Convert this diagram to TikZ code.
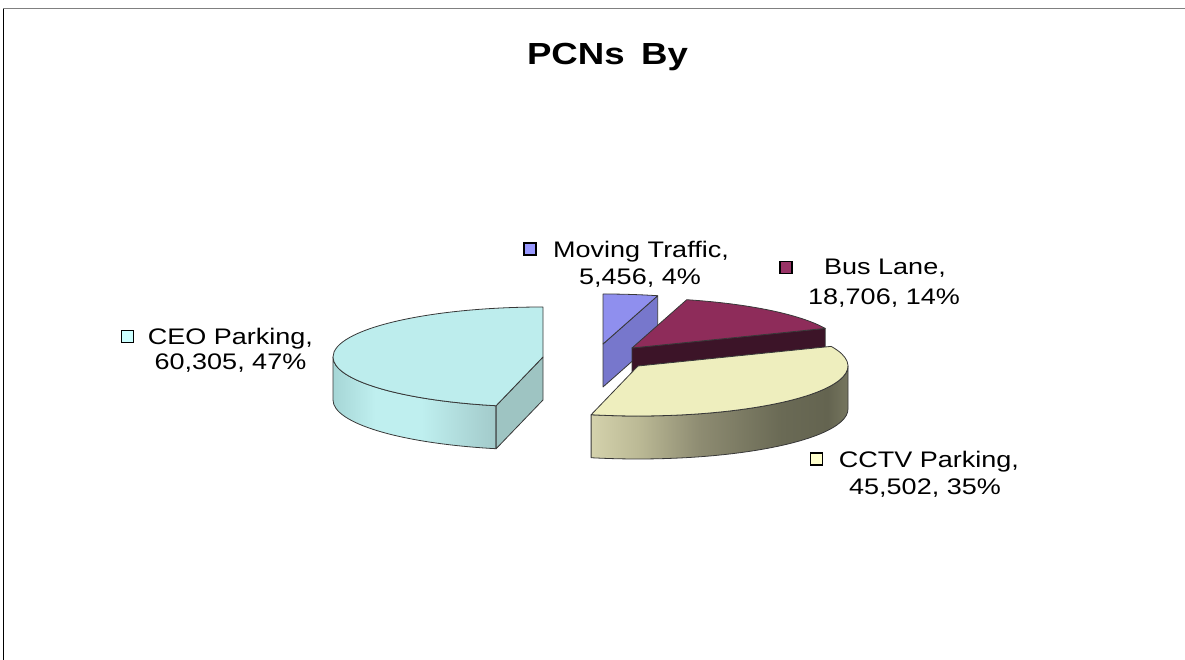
\documentclass[tikz,border=0pt]{standalone}
\usepackage{fontspec}
\setmainfont{Liberation Sans}
\usetikzlibrary{calc}
\definecolor{ceoA}{HTML}{A6D6D6}
\definecolor{ceoB}{HTML}{BFEFEF}
\definecolor{ceoC}{HTML}{A2CACA}
\definecolor{ceoTop}{HTML}{BDEDED}
\definecolor{ceoRad}{HTML}{9EC4C2}
\definecolor{ccA}{HTML}{D4D2AC}
\definecolor{ccB}{HTML}{BCBA96}
\definecolor{ccC}{HTML}{8E8C72}
\definecolor{ccD}{HTML}{6A6A55}
\definecolor{ccE}{HTML}{646450}
\definecolor{ccF}{HTML}{76765F}
\definecolor{ccTop}{HTML}{EEEEBE}
\definecolor{busTop}{HTML}{8E2C5A}
\definecolor{busRad}{HTML}{3C1428}
\definecolor{mtTop}{HTML}{8F8FEE}
\definecolor{mtRad}{HTML}{7777CC}
\definecolor{edge}{HTML}{383838}
\definecolor{lgCEO}{HTML}{CCFFFF}
\definecolor{lgMT}{HTML}{9999FF}
\definecolor{lgBus}{HTML}{993366}
\definecolor{lgCC}{HTML}{FFFFCC}
\pgfdeclarehorizontalshading{ceoside}{100bp}{color(0bp)=(ceoA); color(25bp)=(ceoA); color(38bp)=(ceoB); color(52bp)=(ceoB); color(75bp)=(ceoC); color(100bp)=(ceoC)}
\pgfdeclarehorizontalshading{cctvside}{100bp}{color(0bp)=(ccA); color(25bp)=(ccA); color(34bp)=(ccB); color(46bp)=(ccC); color(62bp)=(ccD); color(71bp)=(ccE); color(75bp)=(ccF); color(100bp)=(ccF)}
\begin{document}
\begin{tikzpicture}[x=1pt,y=1pt,
  face/.style={draw=edge,line width=0.8pt,line join=round},
  legendbox/.style={draw=black,line width=1.6pt,minimum size=12pt,inner sep=0pt},
  lbl/.style={anchor=base,inner sep=0pt,font=\fontsize{22.5}{27}\selectfont},
  ttl/.style={anchor=base,inner sep=0pt,font=\fontsize{30.5}{36}\selectfont\bfseries}]
\useasboundingbox (0,0) rectangle (1185,660);
% frame
\draw[gray,line width=1pt] (3,651) -- (1185,651);
\draw[black,line width=0.8pt] (3.5,651) -- (3.5,0);
% title
\node[ttl] (title) at (607.5,595) {\scalebox{1.2}[1]{PCNs\hspace{0.45em}By}};
% apexes
\coordinate (A1) at (543,303);
\coordinate (A2) at (638,294);
\coordinate (A3) at (632,312);
\coordinate (A4) at (603,316);
\def\rx{210pt}\def\ry{50pt}
% Moving Traffic
\filldraw[face,fill=mtRad] (A4) -- ($(A4)+(74.9:210pt and 50pt)$) -- ++(0,-43) -- ($(A4)+(0,-43)$) -- cycle;
\filldraw[face,fill=mtTop] (A4) -- ($(A4)+(74.9:210pt and 50pt)$) arc[start angle=74.9,end angle=90,x radius=\rx,y radius=\ry] -- cycle;
% Bus Lane
\filldraw[face,fill=busRad] (A3) -- ($(A3)+(23.1:210pt and 50pt)$) -- ++(0,-43) -- ($(A3)+(0,-43)$) -- cycle;
\filldraw[face,fill=busTop] (A3) -- ($(A3)+(23.1:210pt and 50pt)$) arc[start angle=23.1,end angle=74.9,x radius=\rx,y radius=\ry] -- cycle;
% CCTV Parking
\path[shading=cctvside] ($(A2)+(-102.9:210pt and 50pt)$) arc[start angle=-102.9,end angle=0,x radius=\rx,y radius=\ry] -- ++(0,-43) arc[start angle=0,end angle=-102.9,x radius=\rx,y radius=\ry] -- cycle;
\draw[face] ($(A2)+(-102.9:210pt and 50pt)$) arc[start angle=-102.9,end angle=0,x radius=\rx,y radius=\ry] -- ++(0,-43) arc[start angle=0,end angle=-102.9,x radius=\rx,y radius=\ry] -- cycle;
\filldraw[face,fill=ccTop] (A2) -- ($(A2)+(-102.9:210pt and 50pt)$) arc[start angle=-102.9,end angle=23.1,x radius=\rx,y radius=\ry] -- cycle;
% CEO Parking
\path[shading=ceoside] ($(A1)+(180:210pt and 50pt)$) arc[start angle=180,end angle=257.1,x radius=\rx,y radius=\ry] -- ++(0,-43) arc[start angle=257.1,end angle=180,x radius=\rx,y radius=\ry] -- cycle;
\draw[face] ($(A1)+(180:210pt and 50pt)$) arc[start angle=180,end angle=257.1,x radius=\rx,y radius=\ry] -- ++(0,-43) arc[start angle=257.1,end angle=180,x radius=\rx,y radius=\ry] -- cycle;
\filldraw[face,fill=ceoRad] (A1) -- ($(A1)+(257.1:210pt and 50pt)$) -- ++(0,-43) -- ($(A1)+(0,-43)$) -- cycle;
\filldraw[face,fill=ceoTop] (A1) -- ($(A1)+(90:210pt and 50pt)$) arc[start angle=90,end angle=257.1,x radius=\rx,y radius=\ry] -- cycle;
% labels
\node[legendbox,fill=lgCEO] (sqceo) at (127.5,323.5) {};
\node[lbl] (ceo1) at (230.5,315) {\scalebox{1.2}[1]{CEO Parking,}};
\node[lbl] (ceo2) at (230.5,290) {\scalebox{1.2}[1]{60,305, 47\%}};
\node[legendbox,fill=lgMT] (sqmt) at (530,411) {};
\node[lbl] (mt1) at (641,402) {\scalebox{1.2}[1]{Moving Traffic,}};
\node[lbl] (mt2) at (640,375) {\scalebox{1.2}[1]{5,456, 4\%}};
\node[legendbox,fill=lgBus] (sqbus) at (786,392.5) {};
\node[lbl] (bus1) at (885,385) {\scalebox{1.2}[1]{Bus Lane,}};
\node[lbl] (bus2) at (884,355) {\scalebox{1.2}[1]{18,706, 14\%}};
\node[legendbox,fill=lgCC] (sqcc) at (816.5,201) {};
\node[lbl] (cc1) at (929,192) {\scalebox{1.2}[1]{CCTV Parking,}};
\node[lbl] (cc2) at (925,165) {\scalebox{1.2}[1]{45,502, 35\%}};
\end{tikzpicture}
\end{document}
